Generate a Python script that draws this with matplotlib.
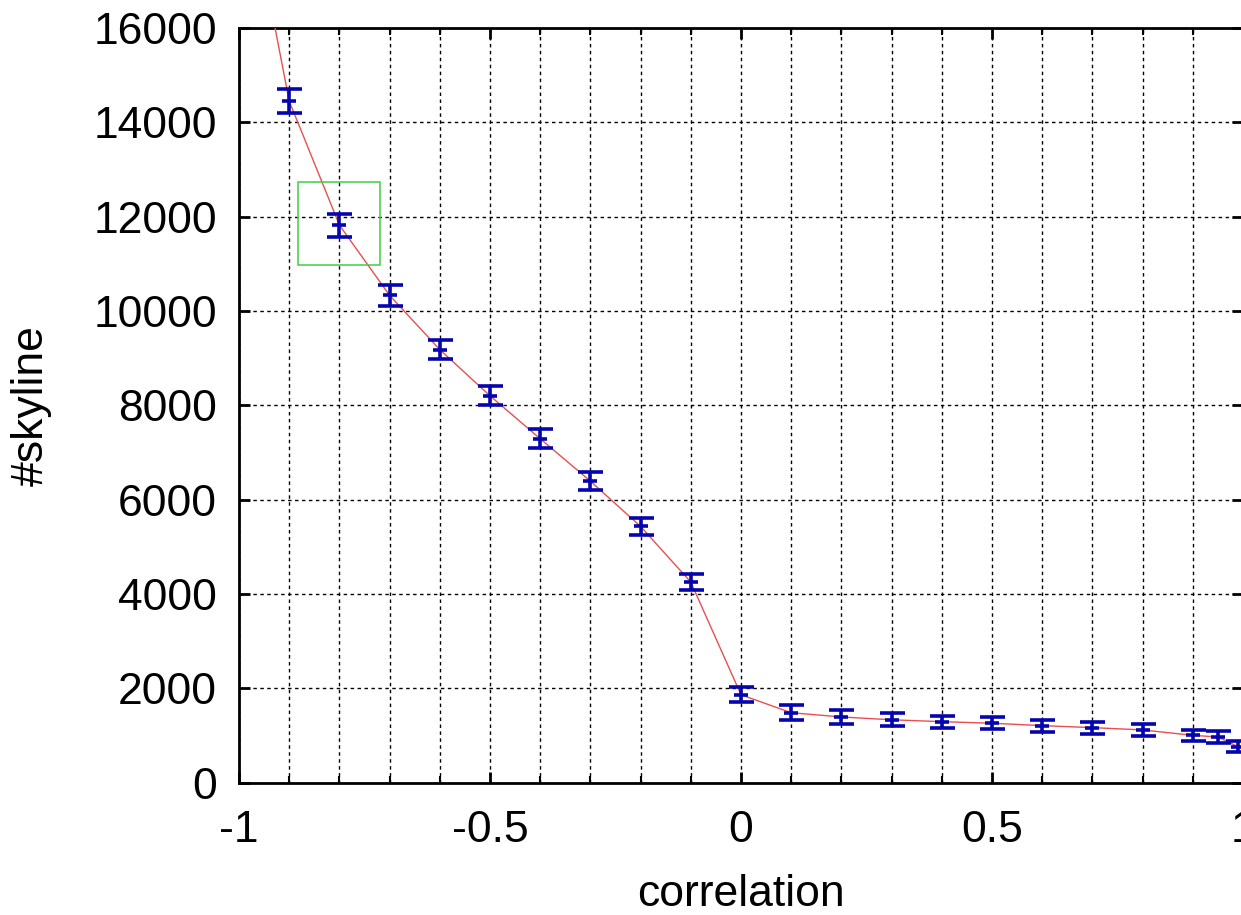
import matplotlib
matplotlib.use("Agg")
import matplotlib.pyplot as plt
from matplotlib.patches import Rectangle
from matplotlib.ticker import MultipleLocator

plt.rcParams['font.family'] = ['Liberation Sans', 'DejaVu Sans']

# measured skyline sizes vs. correlation, with error half-widths
correlation = [-0.95, -0.9, -0.8, -0.7, -0.6, -0.5, -0.4, -0.3, -0.2, -0.1,
               0.0, 0.1, 0.2, 0.3, 0.4, 0.5, 0.6, 0.7, 0.8, 0.9, 0.95, 0.99]
skyline = [17200, 14450, 11820, 10330, 9180, 8200, 7290, 6390, 5430, 4250,
           1860, 1480, 1390, 1330, 1290, 1257, 1206, 1164, 1115, 1000, 966, 760]
skyline_err = [280, 255, 245, 220, 205, 205, 200, 195, 180, 175,
               160, 155, 145, 140, 125, 125, 125, 125, 120, 120, 120, 115]

# highlighted region around one sample
box_x = [-0.882, -0.719]
box_y = [10966, 12728]

x_ticks = [-1, -0.5, 0, 0.5, 1]
x_tick_labels = ['-1', '-0.5', '0', '0.5', '1']
y_ticks = [0, 2000, 4000, 6000, 8000, 10000, 12000, 14000, 16000]

fig = plt.figure(figsize=(12.41, 9.15), dpi=100)
ax = fig.add_axes([0.1926, 0.1448, 0.8090, 0.8246])

ax.plot(correlation, skyline, color='#e85050', lw=1.0, zorder=3)
ax.errorbar(correlation, skyline, yerr=skyline_err, fmt='_', color='#0505b0',
            ecolor='#0505b0', elinewidth=2.6, capsize=9, capthick=2.6,
            markersize=10, markeredgewidth=2.6, zorder=4)

ax.add_patch(Rectangle((box_x[0], box_y[0]), box_x[1] - box_x[0], box_y[1] - box_y[0],
                       fill=False, edgecolor='#44cc44', lw=1.1, zorder=5))

ax.set_xlim(-1, 1)
ax.set_ylim(0, 16000)
ax.set_xticks(x_ticks)
ax.set_xticklabels(x_tick_labels)
ax.set_yticks(y_ticks)
ax.xaxis.set_minor_locator(MultipleLocator(0.1))

ax.grid(True, which='both', axis='x', color='black', lw=1.0, linestyle=(0, (2.5, 2.5)))
ax.grid(True, which='major', axis='y', color='black', lw=1.0, linestyle=(0, (2.5, 2.5)))
ax.set_axisbelow(True)

ax.tick_params(which='major', direction='in', length=8, width=2, top=True, right=True,
               labelsize=32, pad=16)
ax.tick_params(axis='x', which='major', pad=20)
ax.tick_params(which='minor', direction='in', length=5, width=1.5, top=True, right=True)
for s in ax.spines.values():
    s.set_linewidth(2)

ax.set_xlabel('correlation', fontsize=32, labelpad=16)
ax.set_ylabel('#skyline', fontsize=32, labelpad=30)

fig.savefig('out.png', dpi=100)
